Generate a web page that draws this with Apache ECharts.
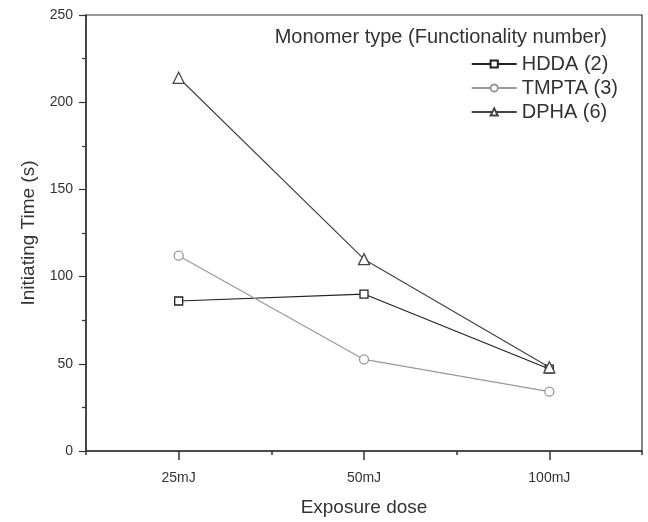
<!DOCTYPE html>
<html>
<head>
<meta charset="utf-8">
<script src="https://cdn.jsdelivr.net/npm/echarts@6/dist/echarts.min.js"></script>
<style>html,body{margin:0;padding:0;background:#fff}#c{width:648px;height:522px}</style>
</head>
<body>
<div id="c"></div>
<script>
var categories = ['25mJ', '50mJ', '100mJ'];
var hdda = [86, 90, 47];
var tmpta = [112, 52.5, 34];
var dpha = [214, 110, 48];
var seriesNames = ['HDDA (2)', 'TMPTA (3)', 'DPHA (6)'];
var legendTitle = 'Monomer type (Functionality number)';

var font = 'Liberation Sans, Arial, sans-serif';
var chart = echarts.init(document.getElementById('c'));
function mk(name, data, color, symbol, size) {
  return {
    name: name, type: 'line', data: data, xAxisIndex: 0,
    symbol: symbol, symbolSize: size,
    lineStyle: { color: color, width: 1.2 },
    itemStyle: { color: '#fff', borderColor: color, borderWidth: 1.3 },
    emphasis: { disabled: true }, animation: false
  };
}
chart.setOption({
  animation: false,
  title: {
    text: legendTitle, right: 36, top: 22,
    textStyle: { fontFamily: font, fontSize: 20, fontWeight: 'normal', color: '#333' }
  },
  legend: {
    orient: 'vertical', right: 25, top: 49, itemGap: 4, itemWidth: 45, itemHeight: 9,
    align: 'left',
    textStyle: { fontFamily: font, fontSize: 20, color: '#333' },
    data: seriesNames
  },
  grid: { left: 86, right: 6, top: 15, bottom: 69, show: true, borderColor: '#333', borderWidth: 1.2 },
  xAxis: [{
    type: 'category', data: categories, boundaryGap: true, position: 'bottom',
    name: 'Exposure dose', nameLocation: 'middle', nameGap: 47,
    nameTextStyle: { fontFamily: font, fontSize: 19, color: '#333' },
    axisLine: { lineStyle: { color: '#333', width: 1.5 } },
    axisTick: { show: false },
    axisLabel: { fontFamily: font, fontSize: 14, color: '#333', margin: 20 },
    splitLine: { show: false }
  }, {
    type: 'value', min: 0, max: 3, interval: 1, position: 'bottom',
    axisLine: { show: false },
    axisTick: { show: true, length: 4, lineStyle: { color: '#333', width: 1.5 } },
    minorTick: { show: true, splitNumber: 2, length: 9, lineStyle: { color: '#333', width: 1.5 } },
    axisLabel: { show: false }, splitLine: { show: false }, minorSplitLine: { show: false }
  }],
  yAxis: {
    type: 'value', min: 0, max: 250, interval: 50,
    name: 'Initiating Time (s)', nameLocation: 'middle', nameGap: 45,
    nameTextStyle: { fontFamily: font, fontSize: 19, color: '#333' },
    axisLine: { show: true, lineStyle: { color: '#333', width: 1.5 } },
    axisTick: { show: true, length: 7, lineStyle: { color: '#333', width: 1.2 } },
    minorTick: { show: true, splitNumber: 2, length: 4, lineStyle: { color: '#333', width: 1.2 } },
    axisLabel: { fontFamily: font, fontSize: 14, color: '#333', margin: 13 },
    splitLine: { show: false }
  },
  series: [
    mk(seriesNames[0], hdda, '#222', 'rect', 8),
    mk(seriesNames[1], tmpta, '#999', 'circle', 9),
    mk(seriesNames[2], dpha, '#444', 'triangle', 11)
  ]
});
</script>
</body>
</html>
